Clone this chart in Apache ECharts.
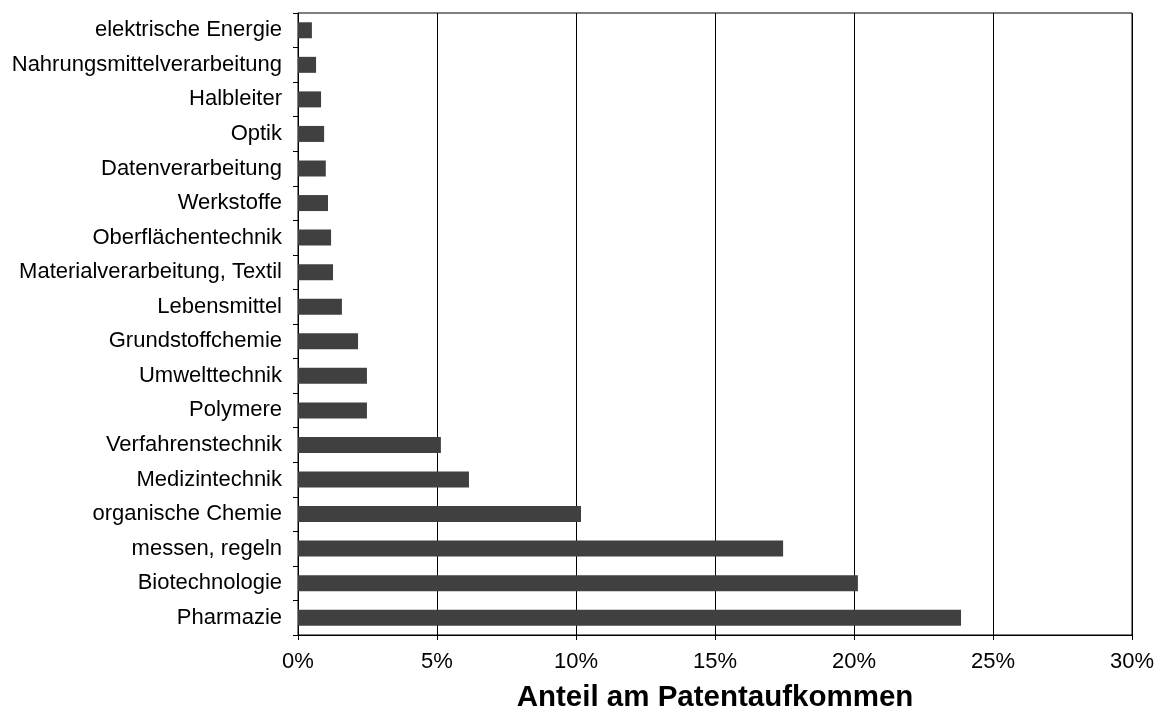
<!DOCTYPE html>
<html>
<head>
<meta charset="utf-8">
<script src="https://cdn.jsdelivr.net/npm/echarts@6/dist/echarts.min.js"></script>
<style>html,body{margin:0;padding:0;background:#fff;}#c{width:1174px;height:714px;}</style>
</head>
<body>
<div id="c"></div>
<script>
const categories = [
  "elektrische Energie","Nahrungsmittelverarbeitung","Halbleiter","Optik","Datenverarbeitung",
  "Werkstoffe","Oberflächentechnik","Materialverarbeitung, Textil","Lebensmittel","Grundstoffchemie",
  "Umwelttechnik","Polymere","Verfahrenstechnik","Medizintechnik","organische Chemie",
  "messen, regeln","Biotechnologie","Pharmazie"
];
const shares = [
  0.50, 0.65, 0.83, 0.94, 1.00,
  1.08, 1.19, 1.26, 1.58, 2.16,
  2.48, 2.48, 5.14, 6.15, 10.18,
  17.45, 20.14, 23.85
];
const axisTitle = "Anteil am Patentaufkommen";

const chart = echarts.init(document.getElementById('c'), null, {renderer: 'canvas'});
chart.setOption({
  animation: false,
  backgroundColor: '#ffffff',
  grid: {left: 298, right: 42, top: 13, bottom: 79, show: true, borderColor: '#000', borderWidth: 1, containLabel: false, outerBoundsMode: 'none'},
  xAxis: {
    type: 'value', min: 0, max: 30, interval: 5,
    name: axisTitle, nameLocation: 'middle', nameGap: 48,
    nameTextStyle: {fontFamily: 'Liberation Sans, Arial, sans-serif', fontSize: 29.5, fontWeight: 'bold', color: '#000'},
    axisLine: {show: true, lineStyle: {color: '#000', width: 1}},
    axisTick: {show: true, length: 5, lineStyle: {color: '#000'}},
    axisLabel: {formatter: v => v + '%', fontFamily: 'Liberation Sans, Arial, sans-serif', fontSize: 22, color: '#000', margin: 16},
    splitLine: {show: true, lineStyle: {color: '#000', width: 1}}
  },
  yAxis: {
    type: 'category', data: categories, inverse: true,
    axisLine: {show: true, lineStyle: {color: '#000', width: 1}},
    axisTick: {show: true, length: 5, lineStyle: {color: '#000'}},
    axisLabel: {fontFamily: 'Liberation Sans, Arial, sans-serif', fontSize: 22, color: '#000', margin: 16},
    splitLine: {show: false}
  },
  series: [{
    type: 'bar', data: shares, barWidth: 16,
    itemStyle: {color: '#404040'}
  }]
});
</script>
</body>
</html>
